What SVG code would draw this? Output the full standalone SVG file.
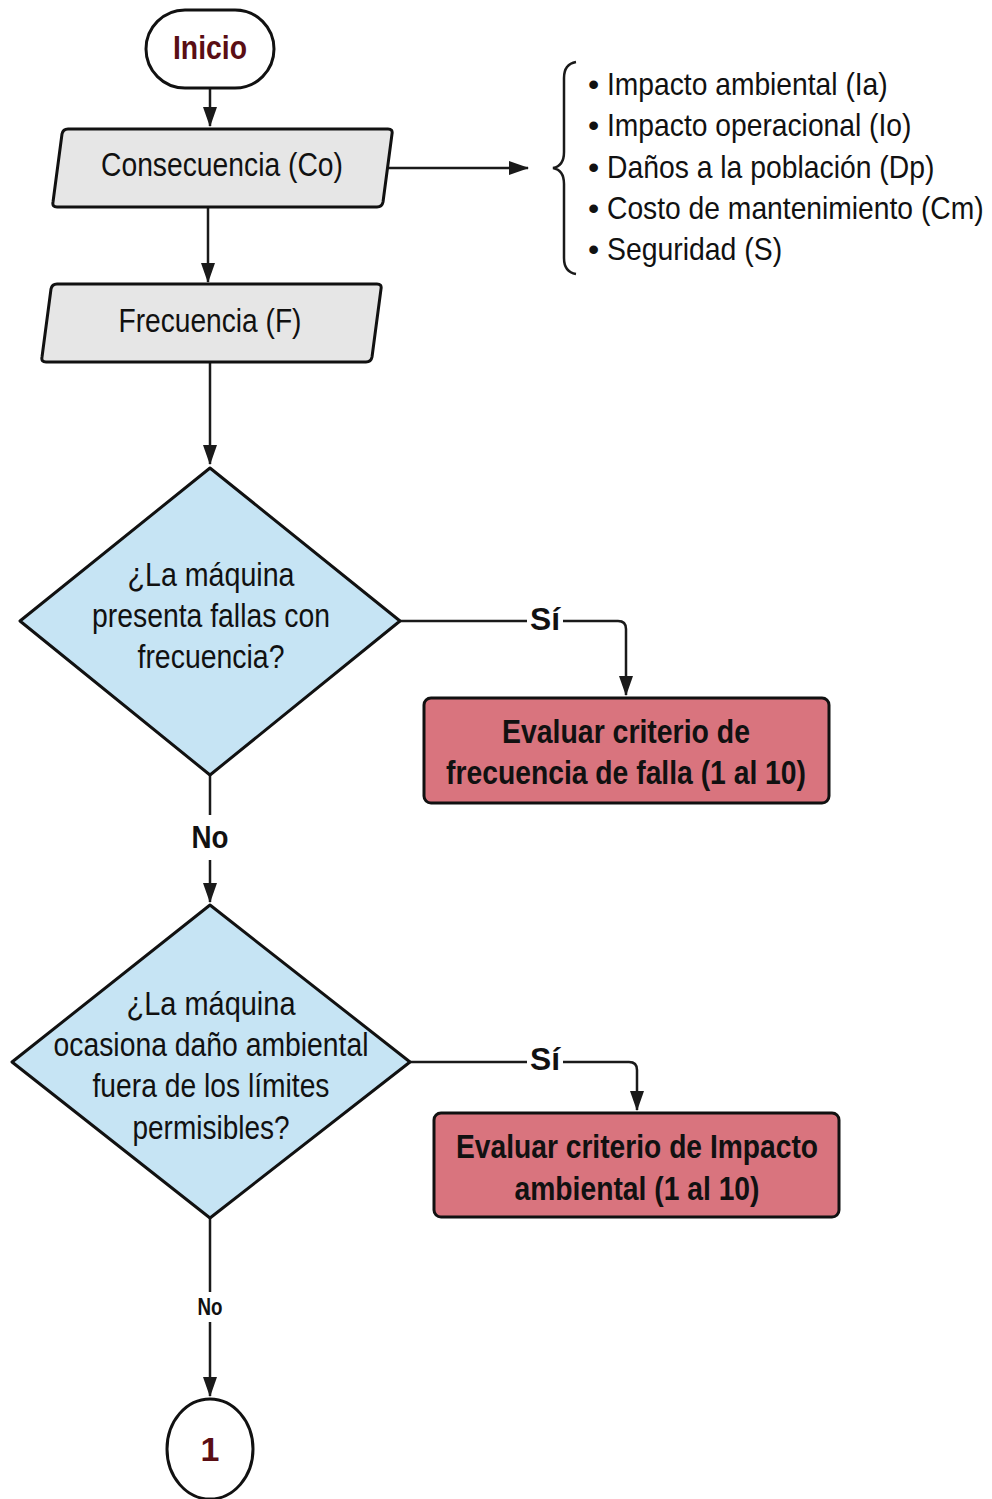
<svg xmlns="http://www.w3.org/2000/svg" width="992" height="1499" viewBox="0 0 992 1499">
  <style>
    .bg { fill: #ffffff; }
    .shape { stroke: #111111; stroke-width: 3; stroke-linejoin: round; }
    .io { fill: #e6e6e6; }
    .dec { fill: #c6e4f4; }
    .act { fill: #d9747e; }
    .term { fill: #ffffff; }
    .t { font-family: "Liberation Sans", Arial, sans-serif; font-size: 34px; fill: #111111; text-anchor: middle; }
    .b { font-weight: bold; }
    .dark { fill: #5a0e14; }
    .list { font-family: "Liberation Sans", Arial, sans-serif; font-size: 32px; fill: #111111; }
    .lbl { font-family: "Liberation Sans", Arial, sans-serif; font-weight: bold; fill: #111111; text-anchor: middle; }
    .edge { fill: none; stroke: #1a1a1a; stroke-width: 2.5; }
  </style>
  <defs>
    <marker id="arrow" viewBox="0 0 20 14" refX="19" refY="7" markerWidth="20" markerHeight="14" markerUnits="userSpaceOnUse" orient="auto">
      <path d="M0,0 L20,7 L0,14 Z" fill="#1a1a1a"/>
    </marker>
  </defs>

  <rect class="bg" x="0" y="0" width="992" height="1499"/>

  <!-- connectors -->
  <g id="connectors">
    <line class="edge" x1="210" y1="89" x2="210" y2="126" marker-end="url(#arrow)"/>
    <line class="edge" x1="385" y1="168" x2="528" y2="168" marker-end="url(#arrow)"/>
    <line class="edge" x1="208" y1="208" x2="208" y2="282" marker-end="url(#arrow)"/>
    <line class="edge" x1="210" y1="363" x2="210" y2="464" marker-end="url(#arrow)"/>
    <!-- Sí branch 1 -->
    <path class="edge" d="M400,621 H527 M563,621 H618 Q626,621 626,629 V695" marker-end="url(#arrow)"/>
    <!-- No branch 1 -->
    <path class="edge" d="M210,775 V815 M210,860 V902" marker-end="url(#arrow)"/>
    <!-- Sí branch 2 -->
    <path class="edge" d="M410,1062 H527 M563,1062 H629 Q637,1062 637,1070 V1110" marker-end="url(#arrow)"/>
    <!-- No branch 2 -->
    <path class="edge" d="M210,1218 V1292 M210,1322 V1396" marker-end="url(#arrow)"/>
    <!-- brace grouping the consequence criteria -->
    <path class="edge" d="M576,62 Q564,64 564,78 V152 Q564,166 553,168 Q564,170 564,184 V258 Q564,272 576,274"/>
  </g>

  <g id="inicio">
    <rect class="shape term" x="146" y="10" width="128" height="78" rx="39" ry="39"/>
    <text class="t b dark" x="210" y="59" font-size="36" textLength="74" lengthAdjust="spacingAndGlyphs">Inicio</text>
  </g>

  <g id="consecuencia">
    <path class="shape io" d="M68,129 H388 Q393,129 392,134 L383,202 Q382,207 377,207 H57 Q52,207 53,202 L62,134 Q63,129 68,129 Z"/>
    <text class="t" x="222" y="176" textLength="242" lengthAdjust="spacingAndGlyphs">Consecuencia (Co)</text>
  </g>

  <g id="criterios">
    <text class="list" x="588" y="95">•</text>
    <text class="list" transform="translate(607,95) scale(0.88,1)" textLength="319" lengthAdjust="spacingAndGlyphs">Impacto ambiental (Ia)</text>
    <text class="list" x="588" y="136">•</text>
    <text class="list" transform="translate(607,136) scale(0.88,1)" textLength="346" lengthAdjust="spacingAndGlyphs">Impacto operacional (Io)</text>
    <text class="list" x="588" y="178">•</text>
    <text class="list" transform="translate(607,178) scale(0.88,1)" textLength="372" lengthAdjust="spacingAndGlyphs">Daños a la población (Dp)</text>
    <text class="list" x="588" y="219">•</text>
    <text class="list" transform="translate(607,219) scale(0.88,1)" textLength="428" lengthAdjust="spacingAndGlyphs">Costo de mantenimiento (Cm)</text>
    <text class="list" x="588" y="260">•</text>
    <text class="list" transform="translate(607,260) scale(0.88,1)" textLength="199" lengthAdjust="spacingAndGlyphs">Seguridad (S)</text>
  </g>

  <g id="frecuencia">
    <path class="shape io" d="M57,284 H377 Q382,284 381,289 L372,357 Q371,362 366,362 H46 Q41,362 42,357 L51,289 Q52,284 57,284 Z"/>
    <text class="t" x="210" y="332" textLength="183" lengthAdjust="spacingAndGlyphs">Frecuencia (F)</text>
  </g>

  <g id="decision-fallas">
    <path class="shape dec" d="M210,468 L400,621 L210,775 L20,621 Z"/>
    <text class="t" x="211" y="586" textLength="167" lengthAdjust="spacingAndGlyphs">¿La máquina</text>
    <text class="t" x="211" y="627" textLength="238" lengthAdjust="spacingAndGlyphs">presenta fallas con</text>
    <text class="t" x="211" y="668" textLength="147" lengthAdjust="spacingAndGlyphs">frecuencia?</text>
  </g>

  <text class="lbl" x="545" y="630" font-size="32" textLength="30" lengthAdjust="spacingAndGlyphs">Sí</text>

  <g id="evaluar-frecuencia">
    <rect class="shape act" x="424" y="698" width="405" height="105" rx="7" ry="7"/>
    <text class="t b" x="626" y="743" textLength="248" lengthAdjust="spacingAndGlyphs">Evaluar criterio de</text>
    <text class="t b" x="626" y="784" textLength="360" lengthAdjust="spacingAndGlyphs">frecuencia de falla (1 al 10)</text>
  </g>

  <text class="lbl" x="210" y="848" font-size="32" textLength="37" lengthAdjust="spacingAndGlyphs">No</text>

  <g id="decision-ambiental">
    <path class="shape dec" d="M210,905 L410,1062 L210,1218 L12,1062 Z"/>
    <text class="t" x="211" y="1015" textLength="169" lengthAdjust="spacingAndGlyphs">¿La máquina</text>
    <text class="t" x="211" y="1056" textLength="315" lengthAdjust="spacingAndGlyphs">ocasiona daño ambiental</text>
    <text class="t" x="211" y="1097" textLength="237" lengthAdjust="spacingAndGlyphs">fuera de los límites</text>
    <text class="t" x="211" y="1139" textLength="157" lengthAdjust="spacingAndGlyphs">permisibles?</text>
  </g>

  <text class="lbl" x="545" y="1070" font-size="32" textLength="30" lengthAdjust="spacingAndGlyphs">Sí</text>

  <g id="evaluar-ambiental">
    <rect class="shape act" x="434" y="1113" width="405" height="104" rx="7" ry="7"/>
    <text class="t b" x="637" y="1158" textLength="362" lengthAdjust="spacingAndGlyphs">Evaluar criterio de Impacto</text>
    <text class="t b" x="637" y="1200" textLength="245" lengthAdjust="spacingAndGlyphs">ambiental (1 al 10)</text>
  </g>

  <text class="lbl" x="210" y="1315" font-size="23" textLength="25" lengthAdjust="spacingAndGlyphs">No</text>

  <g id="conector-1">
    <ellipse class="shape term" cx="210" cy="1449" rx="43" ry="50"/>
    <text class="t b dark" x="210" y="1461" font-size="36">1</text>
  </g>
</svg>
